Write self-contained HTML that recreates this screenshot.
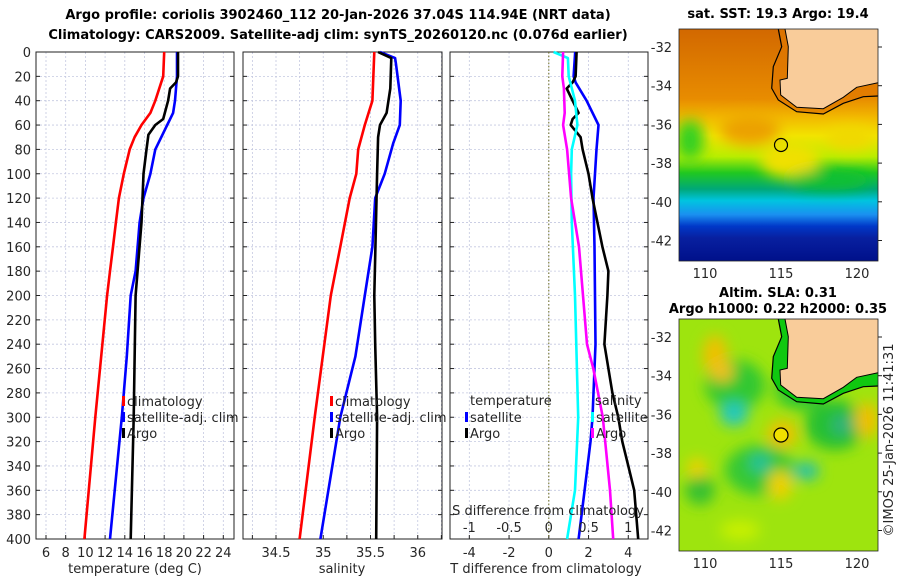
<!DOCTYPE html>
<html><head><meta charset="utf-8"><style>
html,body{margin:0;padding:0;background:#fff;}
svg{display:block;font-family:"DejaVu Sans","Liberation Sans",sans-serif;}
.t{font-size:13px;fill:#262626;}
.b{font-weight:bold;fill:#000;font-size:13px;}
</style></head><body>
<svg id="fig" width="900" height="580" viewBox="0 0 900 580" xmlns="http://www.w3.org/2000/svg">
<defs>
<linearGradient id="sstg" x1="0" y1="0" x2="0" y2="1">
<stop offset="0" stop-color="#d26800"/><stop offset="0.3" stop-color="#e88c00"/>
<stop offset="0.38" stop-color="#f2b800"/><stop offset="0.46" stop-color="#f2e400"/>
<stop offset="0.55" stop-color="#b8ee00"/><stop offset="0.62" stop-color="#20c820"/>
<stop offset="0.69" stop-color="#00a878"/><stop offset="0.74" stop-color="#00c4e0"/>
<stop offset="0.8" stop-color="#1a90f0"/><stop offset="0.85" stop-color="#0038c8"/>
<stop offset="0.9" stop-color="#0820a0"/><stop offset="1" stop-color="#00108a"/>
</linearGradient>
<filter id="bl" x="-50%" y="-50%" width="200%" height="200%"><feGaussianBlur stdDeviation="7"/></filter>
<clipPath id="c1"><rect x="679" y="29" width="199" height="232"/></clipPath>
<clipPath id="c2"><rect x="679" y="319" width="199" height="232"/></clipPath>
</defs>
<text class="b" x="338" y="19" text-anchor="middle">Argo profile: coriolis 3902460_112 20-Jan-2026 37.04S 114.94E (NRT data)</text>
<text class="b" x="338" y="39" text-anchor="middle">Climatology: CARS2009. Satellite-adj clim: synTS_20260120.nc (0.076d earlier)</text>
<g id="p1"></g>
<g id="p2"></g>
<g id="p3"></g>

<g>
<text class="b" x="778" y="18" text-anchor="middle">sat. SST: 19.3 Argo: 19.4</text>
<g clip-path="url(#c1)">
<rect x="679" y="29" width="199" height="232" fill="url(#sstg)"/>
<g filter="url(#bl)">
<ellipse cx="690" cy="140" rx="14" ry="20" fill="#30d020"/>
<ellipse cx="790" cy="160" rx="30" ry="18" fill="#f0e000"/>
<ellipse cx="850" cy="138" rx="25" ry="12" fill="#f0d800"/>
<ellipse cx="750" cy="130" rx="30" ry="15" fill="#eca000"/>
<ellipse cx="830" cy="180" rx="40" ry="10" fill="#10c030"/>
</g>
<polygon points="785,29 788.3,46.7 787.3,78.3 780,80 780.7,95 796.7,107.3 823.3,108.7 843.3,97.3 856.7,87.3 876.7,82.7 878,82.7 878,29" fill="#f9cc9a"/>
<polygon points="778.3,29 781.7,46.7 773.3,66.7 771.7,88.3 778.3,100 796.7,111.7 823.3,114 843.3,103.3 863.3,96.7 878,96 878,82.7 856.7,87.3 843.3,97.3 823.3,108.7 796.7,107.3 780.7,95 780,80 787.3,78.3 788.3,46.7 785,29" fill="#e07800" opacity="0.7"/>
<polyline points="785,29 788.3,46.7 787.3,78.3 780,80 780.7,95 796.7,107.3 823.3,108.7 843.3,97.3 856.7,87.3 878,82.7" fill="none" stroke="#000" stroke-width="1"/>
<polyline points="778.3,29 781.7,46.7 773.3,66.7 771.7,88.3 778.3,100 796.7,111.7 823.3,114 843.3,103.3 863.3,96.7 878,96" fill="none" stroke="#000" stroke-width="1.2"/>
</g>
<rect x="679" y="29" width="199" height="232" fill="none" stroke="#222" stroke-width="0.8"/>
<circle cx="781" cy="145" r="6.5" fill="none" stroke="#000" stroke-width="1.2"/>
</g>

<g>
<text class="b" x="778" y="297" text-anchor="middle">Altim. SLA: 0.31</text>
<text class="b" x="778" y="313" text-anchor="middle">Argo h1000: 0.22 h2000: 0.35</text>
<g clip-path="url(#c2)">
<rect x="679" y="319" width="199" height="232" fill="#9ee40e"/>
<g filter="url(#bl)">
<ellipse cx="735" cy="385" rx="30" ry="25" fill="#30c830"/>
<ellipse cx="800" cy="390" rx="25" ry="20" fill="#30c830"/>
<ellipse cx="835" cy="425" rx="30" ry="25" fill="#28c030"/>
<ellipse cx="760" cy="470" rx="35" ry="25" fill="#34c834"/>
<ellipse cx="700" cy="490" rx="15" ry="15" fill="#34c030"/>
<ellipse cx="715" cy="355" rx="12" ry="20" fill="#f0c000"/>
<ellipse cx="722" cy="372" rx="12" ry="10" fill="#f0c020"/>
<ellipse cx="867" cy="420" rx="12" ry="18" fill="#f0c000"/>
<ellipse cx="782" cy="434" rx="15" ry="14" fill="#f0c000"/>
<ellipse cx="697" cy="468" rx="10" ry="10" fill="#f0d000"/>
<ellipse cx="780" cy="485" rx="12" ry="15" fill="#f0d000"/>
<ellipse cx="734" cy="414" rx="14" ry="12" fill="#20c8c0"/>
<ellipse cx="760" cy="463" rx="10" ry="9" fill="#20c0a0"/>
<ellipse cx="807" cy="471" rx="12" ry="9" fill="#20c0b0"/>
<ellipse cx="842" cy="425" rx="10" ry="10" fill="#30b080"/>
<ellipse cx="740" cy="530" rx="20" ry="10" fill="#c8f000"/>
</g>
<polygon points="785,319 788.3,336.7 787.3,368.3 780,370 780.7,385 796.7,397.3 823.3,398.7 843.3,387.3 856.7,377.3 876.7,372.7 878,372.7 878,319" fill="#f9cc9a"/>
<polygon points="778.3,319 781.7,336.7 773.3,356.7 771.7,378.3 778.3,390 796.7,401.7 823.3,404 843.3,393.3 863.3,386.7 878,386 878,372.7 856.7,377.3 843.3,387.3 823.3,398.7 796.7,397.3 780.7,385 780,370 787.3,368.3 788.3,336.7 785,319" fill="#10c810"/>
<polyline points="785,319 788.3,336.7 787.3,368.3 780,370 780.7,385 796.7,397.3 823.3,398.7 843.3,387.3 856.7,377.3 878,372.7" fill="none" stroke="#000" stroke-width="1"/>
<polyline points="778.3,319 781.7,336.7 773.3,356.7 771.7,378.3 778.3,390 796.7,401.7 823.3,404 843.3,393.3 863.3,386.7 878,386" fill="none" stroke="#000" stroke-width="1.2"/>
</g>
<rect x="679" y="319" width="199" height="232" fill="none" stroke="#222" stroke-width="0.8"/>
<circle cx="781" cy="435" r="7" fill="#f0e000" stroke="#000" stroke-width="1.2"/>
</g>
<text class="t" transform="translate(893,440) rotate(-90)" text-anchor="middle">©IMOS 25-Jan-2026 11:41:31</text>
<g id="mapaxes"></g>
</svg>
<script>
// ---- data ----
const depthTicks = [0,20,40,60,80,100,120,140,160,180,200,220,240,260,280,300,320,340,360,380,400];
const tempTicks = [6,8,10,12,14,16,18,20,22,24];
const salTicks = [34.5,35,35.5,36];
const diffTTicks = [-4,-2,0,2,4];
const diffSTickLabels = ["-1","-0.5","0","0.5","1"];

const climTDepth = [0,20,40,50,60,70,80,100,120,140,160,180,200,300,400];
const climTVal   = [18.0,17.9,17.1,16.6,15.7,15.0,14.5,13.9,13.4,13.1,12.8,12.5,12.2,11.0,9.9];
const satTDepth = [0,20,40,50,60,80,100,120,140,160,180,200,250,300,350,400];
const satTVal   = [19.3,19.3,19.1,18.9,18.3,17.1,16.6,15.9,15.5,15.3,15.1,14.6,14.2,13.7,13.1,12.5];
const argoTDepth = [0,20,25,30,40,55,60,68,80,100,140,200,300,400];
const argoTVal   = [19.4,19.4,19.2,18.6,18.4,17.9,17.1,16.4,16.2,15.9,15.7,15.1,14.9,14.6];

const climSDepth = [0,40,60,80,100,120,160,200,300,400];
const climSVal   = [35.54,35.52,35.44,35.37,35.35,35.28,35.18,35.08,34.91,34.75];
const satSDepth = [0,5,10,40,60,75,100,120,160,200,250,300,400];
const satSVal   = [35.60,35.76,35.77,35.82,35.81,35.74,35.65,35.55,35.52,35.44,35.34,35.18,34.97];
const argoSDepth = [0,5,30,50,60,70,100,200,240,300,400];
const argoSVal   = [35.58,35.72,35.71,35.67,35.60,35.58,35.57,35.54,35.55,35.57,35.56];

const dTsatDepth = [0,20,25,40,60,80,120,160,240,300,320,360,400];
const dTsatVal   = [1.33,1.25,1.35,1.9,2.5,2.4,2.25,2.3,2.35,2.2,2.1,1.8,1.5];
const dTargoDepth = [0,20,25,30,40,50,55,60,70,80,100,120,160,180,200,240,260,280,300,320,340,360,400];
const dTargoVal   = [1.4,1.35,1.2,0.9,1.2,1.5,1.2,1.1,1.6,1.7,2.0,2.2,2.7,3.0,2.95,2.8,3.0,3.2,3.5,3.7,4.0,4.3,4.5];
const dSsatDepth = [0,5,20,40,60,80,100,140,200,300,360,400];
const dSsatVal   = [0.06,0.24,0.25,0.33,0.36,0.29,0.28,0.29,0.33,0.37,0.33,0.23];
const dSargoDepth = [0,20,30,50,60,80,120,160,200,240,260,300,360,400];
const dSargoVal   = [0.18,0.17,0.19,0.2,0.18,0.23,0.28,0.38,0.43,0.48,0.56,0.68,0.77,0.81];

// ---- helpers ----
const NS = "http://www.w3.org/2000/svg";
const Y0 = 52, Y1 = 539;
function yD(d){ return Y0 + d*(Y1-Y0)/400; }
function mk(tag, attrs, parent){
  const e = document.createElementNS(NS, tag);
  for (const k in attrs) e.setAttribute(k, attrs[k]);
  parent.appendChild(e); return e;
}
function txt(str, x, y, anchor, parent, cls){
  const e = mk("text", {x:x, y:y, "text-anchor":anchor||"middle", class:cls||"t"}, parent);
  e.textContent = str; return e;
}
function frame(g, x0, x1, gridXs, leftLabels){
  depthTicks.forEach(d => {
    const l = mk("line", {x1:x0, x2:x1, y1:yD(d), y2:yD(d), stroke:"#c4c8e0", "stroke-width":0.8, "stroke-dasharray":"2,2"}, g);
    
    
    mk("line", {x1:x0, x2:x0+4, y1:yD(d), y2:yD(d), stroke:"#222"}, g);
    mk("line", {x1:x1-4, x2:x1, y1:yD(d), y2:yD(d), stroke:"#222"}, g);
    if (leftLabels){
      const t = txt(String(d), x0-5, yD(d)+5, "end", g);
      
      
    }
  });
  gridXs.forEach(x => {
    mk("line", {x1:x, x2:x, y1:Y0, y2:Y1, stroke:"#c4c8e0", "stroke-width":0.8, "stroke-dasharray":"2,2"}, g);
    mk("line", {x1:x, x2:x, y1:Y1-4, y2:Y1, stroke:"#222"}, g);
  });
  const r = mk("rect", {x:x0, y:Y0, width:x1-x0, height:Y1-Y0, fill:"none", stroke:"#222", "stroke-width":1}, g);
  
  
}
function series(g, depths, vals, xf, color, name){
  const pts = depths.map((d,i) => xf(vals[i]).toFixed(1)+","+yD(d).toFixed(1)).join(" ");
  const p = mk("polyline", {points:pts, fill:"none", stroke:color, "stroke-width":2.6, "stroke-linejoin":"round"}, g);
  
  
}
function legendRow(g, x, y, color, label, name){
  const r = mk("rect", {x:x, y:y-10, width:3, height:10, fill:color}, g);
  
  
  const t = txt(label, x+5, y, "start", g);
  
  
}

// ---- panel 1: temperature ----
const p1 = document.getElementById("p1");
const xT = v => 46 + (v-6)*9.85;
frame(p1, 36, 234, tempTicks.map(xT), true);
tempTicks.forEach(v => {
  const t = txt(String(v), xT(v), 557, "middle", p1);
  
  
});
series(p1, climTDepth, climTVal, xT, "#ff0000", "temp-climatology-line");
series(p1, satTDepth, satTVal, xT, "#0000ff", "temp-satellite-line");
series(p1, argoTDepth, argoTVal, xT, "#000000", "temp-argo-line");
const xl1 = txt("temperature (deg C)", 135, 573, "middle", p1);


legendRow(p1, 122, 406, "#ff0000", "climatology", "legend-climatology");
legendRow(p1, 122, 422, "#0000ff", "satellite-adj. clim", "legend-satellite");
legendRow(p1, 122, 438, "#000000", "Argo", "legend-argo");

// ---- panel 2: salinity ----
const p2 = document.getElementById("p2");
const xS = v => 276 + (v-34.5)*94.5;
const salGrid = [34.25,34.5,34.75,35,35.25,35.5,35.75,36,36.25].filter(v=>xS(v)>243&&xS(v)<442);
frame(p2, 243, 442, salGrid.map(xS), false);
salTicks.forEach(v => {
  const t = txt(String(v), xS(v), 557, "middle", p2);
  
  
});
series(p2, climSDepth, climSVal, xS, "#ff0000", "sal-climatology-line");
series(p2, satSDepth, satSVal, xS, "#0000ff", "sal-satellite-line");
series(p2, argoSDepth, argoSVal, xS, "#000000", "sal-argo-line");
const xl2 = txt("salinity", 342, 573, "middle", p2);


legendRow(p2, 330, 406, "#ff0000", "climatology", "legend2-climatology");
legendRow(p2, 330, 422, "#0000ff", "satellite-adj. clim", "legend2-satellite");
legendRow(p2, 330, 438, "#000000", "Argo", "legend2-argo");

// ---- panel 3: differences ----
const p3 = document.getElementById("p3");
const xD = v => 548.8 + v*19.87;
const xDS = v => xD(v*4);
frame(p3, 450, 648, diffTTicks.map(xD), false);
mk("line", {x1:xD(0), x2:xD(0), y1:Y0, y2:Y1, stroke:"#6b6b20", "stroke-width":1, "stroke-dasharray":"1.5,2"}, p3);
diffTTicks.forEach(v => {
  const t = txt(String(v), xD(v), 557, "middle", p3);
  
  
});
series(p3, dTsatDepth, dTsatVal, xD, "#0000ff", "tdiff-satellite-line");
series(p3, dTargoDepth, dTargoVal, xD, "#000000", "tdiff-argo-line");
series(p3, dSsatDepth, dSsatVal, xDS, "#00ffff", "sdiff-satellite-line");
series(p3, dSargoDepth, dSargoVal, xDS, "#ff00ff", "sdiff-argo-line");
diffTTicks.forEach((v,i) => {
  const t = txt(diffSTickLabels[i], xD(v), 532, "middle", p3);
  
  
});
const st = txt("S difference from climatology", 548, 515, "middle", p3);


const tt = txt("T difference from climatology", 546, 573, "middle", p3);


const lt = txt("temperature", 470, 405, "start", p3);


const ls = txt("salinity", 595, 405, "start", p3);


legendRow(p3, 465, 422, "#0000ff", "satellite", "legend3-temp-satellite");
legendRow(p3, 465, 438, "#000000", "Argo", "legend3-temp-argo");
legendRow(p3, 591, 422, "#00ffff", "satellite", "legend3-sal-satellite");
legendRow(p3, 591, 438, "#ff00ff", "Argo", "legend3-sal-argo");

// ---- map axes ----
const ma = document.getElementById("mapaxes");
const latTicks = [-32,-34,-36,-38,-40,-42];
const lonTicks = [110,115,120];
[[47,278],[337,568]].forEach(([lat32, lonY]) => {
  latTicks.forEach((lat,i) => {
    const y = lat32 + i*38.7;
    const t = txt(String(lat), 672, y+5, "end", ma);
    
    
    mk("line", {x1:878, x2:882, y1:y, y2:y, stroke:"#222"}, ma);
  });
  lonTicks.forEach(lon => {
    const x = 781 + (lon-115)*15.2;
    const t = txt(String(lon), x, lonY, "middle", ma);
    
    
  });
});
</script>
</body></html>
